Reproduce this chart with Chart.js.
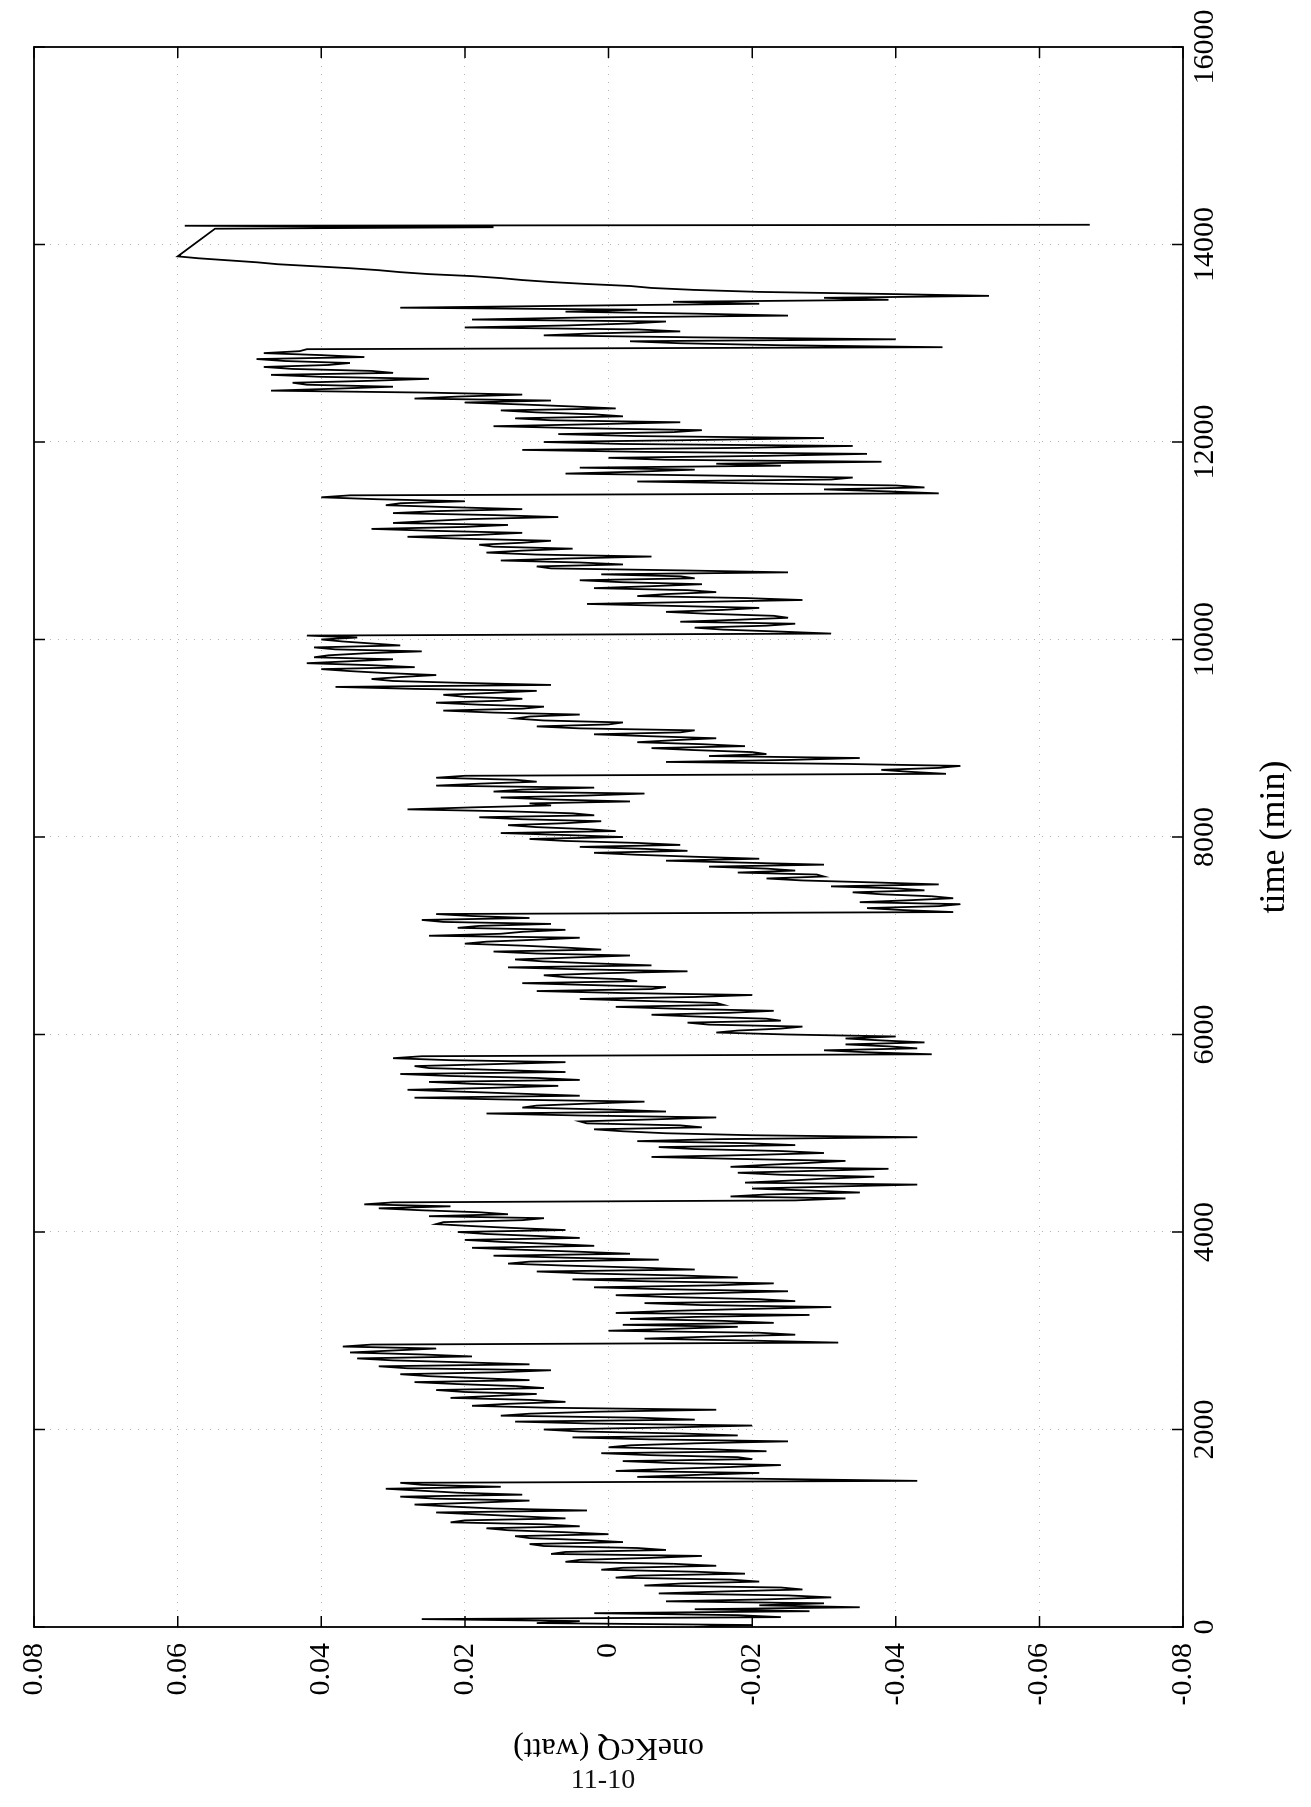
<!DOCTYPE html>
<html>
<head>
<meta charset="utf-8">
<title>oneKcQ</title>
<script src="https://cdn.jsdelivr.net/npm/chart.js@4.4.1/dist/chart.umd.min.js"></script>
<style>
  html, body { margin: 0; padding: 0; background: #fff; }
  #page { position: relative; width: 1311px; height: 1807px; overflow: hidden; background: #fff; }
  /* plot is laid out landscape, then turned onto the portrait page */
  #plot { position: absolute; left: 0; top: 0; width: 1807px; height: 1311px;
          transform-origin: 0 0; transform: translate(0, 1807px) rotate(-90deg); }
  #pageNo { position: absolute; left: 0; width: 1206px; top: 1763px; text-align: center;
            font: 28px "Liberation Serif", serif; color: #111; }
</style>
</head>
<body>
<div id="page">
  <div id="plot"><canvas id="kcq_chart" width="1807" height="1311"></canvas></div>
  <div id="pageNo">11-10</div>
</div>
<script>
// samples every 40 min from t = 0
const sampleStep = 40;
const oneKcQ = [
  // 0 - 1440
  -0.012, 0.010, 0.026, -0.018, -0.028, -0.035, -0.030, -0.022, -0.025, -0.016, -0.024, -0.010, -0.017,
  -0.004, -0.012, -0.002, -0.009, 0.004, -0.013, 0.006, -0.004, 0.011, 0.003, 0.013, 0.006, 0.017,
  0.009, 0.020, 0.012, 0.024, 0.016, 0.027, 0.011, 0.029, 0.021, 0.031, 0.026,
  // 1480 - 2840
  -0.043, -0.004, -0.021, -0.008, -0.024, -0.002, -0.018, 0.001, -0.014, -0.003, -0.025, 0.005, -0.010,
  0.009, -0.020, 0.013, -0.004, 0.011, -0.015, 0.019, 0.006, 0.022, 0.010, 0.024, 0.013, 0.027,
  0.018, 0.029, 0.008, 0.032, 0.020, 0.035, 0.026, 0.030, 0.037,
  // 2880 - 4280
  -0.032, -0.005, -0.026, 0.000, -0.018, -0.023, -0.003, -0.028, -0.008, -0.031, -0.005, -0.021, -0.001,
  -0.025, 0.002, -0.023, 0.005, -0.010, 0.010, -0.004, 0.014, -0.007, 0.016, 0.004, 0.019, 0.008,
  0.020, 0.010, 0.021, 0.013, 0.024, 0.012, 0.025, 0.018, 0.032, 0.034,
  // 4320 - 5760
  -0.026, -0.017, -0.035, -0.020, -0.043, -0.025, -0.037, -0.018, -0.039, -0.022, -0.033, -0.006, -0.030,
  -0.012, -0.026, -0.004, -0.043, -0.008, 0.002, -0.010, 0.004, -0.015, 0.017, 0.000, 0.010, -0.005,
  0.027, 0.012, 0.028, 0.007, 0.025, 0.010, 0.029, 0.015, 0.027, 0.006, 0.030,
  // 5800 - 7200
  -0.045, -0.030, -0.039, -0.044, -0.033, -0.025, -0.018, -0.027, -0.011, -0.022, -0.006, -0.023, -0.001,
  -0.015, 0.004, -0.020, 0.010, -0.008, 0.012, -0.002, 0.009, -0.011, 0.014, 0.002, 0.013, -0.003,
  0.016, 0.006, 0.020, 0.010, 0.025, 0.012, 0.021, 0.008, 0.026, 0.019,
  // 7240 - 8600
  -0.048, -0.036, -0.049, -0.042, -0.045, -0.034, -0.040, -0.046, -0.027, -0.030, -0.018, -0.022, -0.030,
  -0.008, -0.012, 0.002, -0.005, -0.010, 0.006, -0.002, 0.015, 0.003, 0.014, 0.001, 0.018, 0.005,
  0.028, 0.008, -0.003, 0.015, -0.005, 0.012, 0.024, 0.010, 0.024,
  // 8640 - 10040
  -0.047, -0.038, -0.049, -0.008, -0.035, -0.022, -0.012, -0.019, -0.004, -0.015, 0.002, -0.012, 0.010,
  -0.002, 0.013, 0.004, 0.023, 0.009, 0.024, 0.012, 0.023, 0.010, 0.038, 0.020, 0.033, 0.024,
  0.036, 0.027, 0.042, 0.030, 0.039, 0.026, 0.041, 0.033, 0.040, 0.042,
  // 10080 - 11440
  -0.024, -0.012, -0.026, -0.018, -0.023, -0.008, -0.021, 0.003, -0.027, -0.004, -0.015, 0.002, -0.013,
  0.004, -0.010, -0.025, 0.008, -0.002, 0.015, -0.006, 0.017, 0.005, 0.018, 0.008, 0.028, 0.012,
  0.033, 0.014, 0.025, 0.007, 0.030, 0.012, 0.031, 0.020, 0.040,
  // 11480 - 12920
  -0.046, -0.030, -0.040, -0.004, -0.034, 0.006, -0.012, -0.024, -0.038, 0.000, -0.036, 0.012, -0.034,
  0.009, -0.030, 0.007, -0.013, 0.016, -0.010, 0.013, 0.002, 0.015, 0.005, 0.020, 0.027, 0.012,
  0.047, 0.030, 0.044, 0.025, 0.047, 0.033, 0.048, 0.036, 0.049, 0.040, 0.043,
  // 12960 - 13880
  -0.0465, -0.010, -0.040, 0.009, -0.010, 0.020, -0.003, 0.019, -0.025, 0.006, 0.029, -0.021, -0.039,
  -0.053, -0.021, -0.006, 0.003, 0.012, 0.019, 0.029, 0.036, 0.046, 0.053, 0.060
];
// in-between samples, t = 20, 60, 100 ... 13860
const oneKcQMid = [
  -0.020, 0.004, -0.024, 0.002, -0.012, -0.021, -0.008, -0.031, -0.007, -0.027, -0.005, -0.021, -0.001,
  -0.019, 0.001, -0.015, 0.006, -0.006, 0.008, -0.008, 0.009, -0.002, 0.011, 0.000, 0.014, 0.004,
  0.022, 0.006, 0.018, 0.003, 0.022, 0.018, 0.024, 0.012, 0.026, 0.015, 0.029,
  -0.022, -0.012, -0.001, -0.017, -0.009, -0.020, -0.006, -0.022, 0.000, -0.012, -0.006, -0.018, 0.004,
  -0.008, 0.002, -0.012, 0.015, 0.002, 0.008, 0.014, 0.011, 0.016, 0.020, 0.009, 0.021, 0.011,
  0.025, 0.015, 0.028, 0.011, 0.030, 0.019, 0.036, 0.024, 0.033,
  -0.020, -0.014, -0.021, -0.009, -0.002, -0.016, -0.012, -0.001, -0.019, -0.013, -0.026, -0.009, -0.014,
  -0.008, -0.015, -0.006, -0.018, 0.003, -0.012, 0.006, 0.011, 0.006, -0.003, 0.012, 0.002, 0.015,
  0.004, 0.017, 0.006, 0.019, 0.023, 0.009, 0.014, 0.026, 0.022, 0.030,
  -0.033, -0.022, -0.028, -0.031, -0.019, -0.030, -0.024, -0.029, -0.017, -0.028, -0.018, -0.020, -0.024,
  -0.007, -0.019, -0.015, -0.020, -0.002, -0.013, 0.003, -0.006, 0.004, -0.008, 0.012, 0.003, 0.013,
  0.004, 0.020, 0.016, 0.019, 0.004, 0.022, 0.006, 0.025, 0.016, 0.022, 0.026,
  -0.036, -0.043, -0.033, -0.038, -0.040, -0.015, -0.024, -0.014, -0.024, -0.013, -0.017, -0.010, -0.016,
  -0.005, -0.012, -0.002, -0.006, 0.002, -0.004, 0.006, 0.001, 0.004, -0.006, 0.009, 0.005, 0.010,
  0.001, 0.012, 0.017, 0.004, 0.015, 0.006, 0.018, 0.023, 0.011, 0.024,
  -0.041, -0.046, -0.035, -0.048, -0.038, -0.044, -0.031, -0.037, -0.022, -0.029, -0.026, -0.014, -0.019,
  -0.021, -0.004, -0.011, 0.004, -0.004, 0.011, 0.006, -0.001, 0.010, 0.006, 0.012, 0.002, 0.014,
  0.019, 0.011, 0.008, 0.003, 0.016, 0.002, 0.018, 0.013, 0.020,
  -0.042, -0.046, -0.033, -0.025, -0.014, -0.020, -0.006, -0.013, -0.009, -0.006, -0.010, 0.004, 0.000,
  0.009, 0.011, 0.016, 0.012, 0.018, 0.015, 0.020, 0.016, 0.027, 0.008, 0.030, 0.029, 0.031,
  0.040, 0.033, 0.036, 0.041, 0.034, 0.038, 0.029, 0.037, 0.035, -0.031,
  -0.016, -0.022, -0.010, -0.025, -0.014, -0.016, -0.009, -0.012, -0.019, -0.008, -0.011, -0.006, -0.002,
  -0.012, 0.001, -0.010, 0.010, 0.004, 0.006, 0.010, 0.012, 0.016, 0.012, 0.020, 0.018, 0.024,
  0.020, 0.030, 0.019, 0.016, 0.024, 0.022, 0.029, 0.032, 0.036,
  -0.039, -0.044, -0.021, -0.031, -0.015, -0.004, 0.004, -0.015, -0.008, -0.022, -0.005, -0.018, -0.002,
  -0.012, -0.004, -0.009, 0.004, 0.002, 0.008, -0.002, 0.010, -0.001, 0.012, 0.008, 0.021, 0.025,
  0.038, 0.042, 0.033, 0.040, 0.030, 0.044, 0.039, 0.045, 0.034, 0.048, 0.042,
  -0.024, -0.003, -0.012, 0.002, -0.004, 0.006, -0.008, 0.004, -0.012, -0.004, 0.005, -0.009, -0.030,
  -0.038, -0.012, -0.003, 0.008, 0.015, 0.025, 0.032, 0.041, 0.049, 0.057
];
// last few samples after the gap
const tailMinutes = [14160, 14175, 14190, 14200];
const tailKcQ = [0.0548, 0.016, 0.059, -0.067];

const timeTicks = [0, 2000, 4000, 6000, 8000, 10000, 12000, 14000, 16000];
const wattTicks = [-0.08, -0.06, -0.04, -0.02, 0, 0.02, 0.04, 0.06, 0.08];

let points = [];
for (let i = 0; i < oneKcQ.length; i++) {
  points.push({ x: i * sampleStep, y: oneKcQ[i] });
  if (i < oneKcQMid.length) points.push({ x: i * sampleStep + sampleStep / 2, y: oneKcQMid[i] });
}
tailMinutes.forEach(function (t, i) { points.push({ x: t, y: tailKcQ[i] }); });

const serif = "'Liberation Serif', 'Times New Roman', serif";
const tickLen = 11;

// box around the axes with inward tick marks on all four sides
const boxTicks = {
  id: 'boxTicks',
  afterDatasetsDraw(chart) {
    const { ctx, chartArea: a, scales: { x, y } } = chart;
    ctx.save();
    ctx.strokeStyle = '#000';
    ctx.lineWidth = 1.8;
    ctx.strokeRect(a.left, a.top, a.right - a.left, a.bottom - a.top);
    ctx.lineWidth = 1.5;
    ctx.beginPath();
    timeTicks.forEach(function (t) {
      const px = x.getPixelForValue(t);
      ctx.moveTo(px, a.bottom); ctx.lineTo(px, a.bottom - tickLen);
      ctx.moveTo(px, a.top); ctx.lineTo(px, a.top + tickLen);
    });
    wattTicks.forEach(function (w) {
      const py = y.getPixelForValue(w);
      ctx.moveTo(a.left, py); ctx.lineTo(a.left + tickLen, py);
      ctx.moveTo(a.right, py); ctx.lineTo(a.right - tickLen, py);
    });
    ctx.stroke();
    ctx.restore();
  }
};

let ctx = document.getElementById('kcq_chart');

var kcq_chart = new Chart(ctx, {
  type: 'line',
  data: {
    datasets: [{
      label: 'oneKcQ',
      data: points,
      borderColor: '#000',
      borderWidth: 1.8,
      pointRadius: 0,
      tension: 0,
      fill: false
    }]
  },
  options: {
    responsive: false,
    animation: false,
    devicePixelRatio: 1,
    layout: { padding: { top: 23, right: 47, left: 0, bottom: 0 } },
    plugins: { legend: { display: false }, tooltip: { enabled: false } },
    scales: {
      x: {
        type: 'linear',
        min: 0,
        max: 16000,
        afterBuildTicks: function (s) { s.ticks = timeTicks.map(v => ({ value: v })); },
        afterFit: function (s) { s.height = 128; },
        ticks: {
          autoSkip: false, maxRotation: 0, padding: 4, color: '#000', font: { family: serif, size: 30 },
          callback: function (v) { return String(v); }
        },
        grid: { color: 'rgba(0,0,0,0.3)', lineWidth: 1, drawTicks: false },
        border: { display: false, dash: [1, 7] },
        title: { display: true, text: 'time (min)', color: '#000', font: { family: serif, size: 36 }, padding: { top: 0, bottom: 15 } }
      },
      y: {
        type: 'linear',
        min: -0.08,
        max: 0.08,
        afterBuildTicks: function (s) { s.ticks = wattTicks.map(v => ({ value: v })); },
        afterFit: function (s) { s.width = 180; },
        ticks: {
          autoSkip: false, padding: 16, color: '#000', font: { family: serif, size: 30 },
          callback: function (v) { return Math.abs(v) < 1e-9 ? '0' : v.toFixed(2); }
        },
        grid: { color: 'rgba(0,0,0,0.3)', lineWidth: 1, drawTicks: false },
        border: { display: false, dash: [1, 7] },
        title: { display: true, text: 'oneKcQ (watt)', color: '#000', font: { family: serif, size: 32 }, padding: { top: 40, bottom: 0 } }
      }
    }
  },
  plugins: [boxTicks]
});
</script>
</body>
</html>
